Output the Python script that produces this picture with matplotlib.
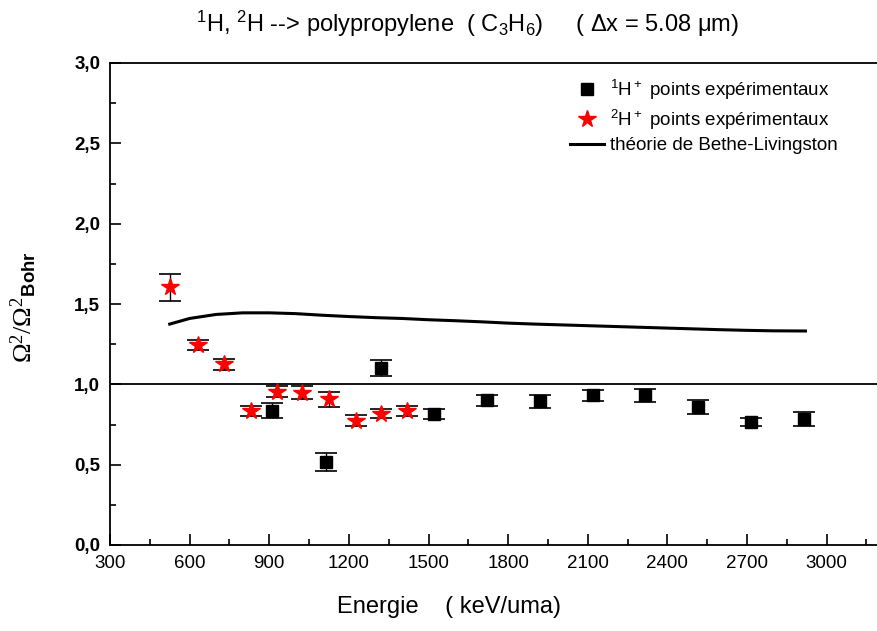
import matplotlib
matplotlib.use("Agg")
import matplotlib.pyplot as plt
from matplotlib.lines import Line2D
from matplotlib.ticker import MultipleLocator, FuncFormatter

plt.rcParams['font.family'] = ['Liberation Sans', 'DejaVu Sans']
plt.rcParams['mathtext.fontset'] = 'custom'
plt.rcParams['mathtext.rm'] = 'Liberation Sans'
plt.rcParams['mathtext.it'] = 'Liberation Sans:italic'
plt.rcParams['mathtext.bf'] = 'Liberation Sans:bold'

# 1H+ experimental points
h1_energy = [910, 1115, 1320, 1520, 1720, 1920, 2120, 2315, 2515, 2715, 2915]
h1_ratio = [0.836, 0.514, 1.101, 0.817, 0.900, 0.894, 0.931, 0.931, 0.859, 0.765, 0.784]
h1_err = [0.045, 0.056, 0.050, 0.032, 0.034, 0.040, 0.032, 0.038, 0.043, 0.027, 0.045]

# 2H+ experimental points
h2_energy = [525, 630, 730, 830, 930, 1025, 1125, 1225, 1320, 1420]
h2_ratio = [1.604, 1.245, 1.124, 0.834, 0.954, 0.948, 0.906, 0.774, 0.817, 0.836]
h2_err = [0.085, 0.033, 0.035, 0.032, 0.035, 0.040, 0.045, 0.034, 0.028, 0.030]

# Bethe-Livingston theory
th_energy = [525, 600, 700, 800, 900, 1000, 1100, 1200, 1300, 1400, 1500, 1600,
             1700, 1800, 1900, 2000, 2100, 2200, 2300, 2400, 2500, 2600, 2700,
             2800, 2920]
th_ratio = [1.375, 1.410, 1.435, 1.445, 1.445, 1.440, 1.430, 1.422, 1.415, 1.410,
            1.402, 1.396, 1.389, 1.381, 1.375, 1.370, 1.365, 1.360, 1.355, 1.350,
            1.345, 1.340, 1.336, 1.333, 1.332]

lbl_h1 = r'$^1$H$^+$ points expérimentaux'
lbl_h2 = r'$^2$H$^+$ points expérimentaux'
lbl_th = 'théorie de Bethe-Livingston'

fig = plt.figure(figsize=(8.78, 6.31), dpi=100)
ax = fig.add_axes([110 / 878, 1 - 545 / 631, 1 - 110 / 878 + 0.002, (545 - 63) / 631])

ax.axhline(1.0, color='black', lw=1.3, zorder=1)

ax.plot(th_energy, th_ratio, color='black', lw=2.2, zorder=2)

ax.errorbar(h1_energy, h1_ratio, yerr=h1_err, fmt='s', color='black',
            ms=8, capsize=8, elinewidth=1.0, capthick=1.2, zorder=3)
ax.errorbar(h2_energy, h2_ratio, yerr=h2_err, fmt='*', color='red',
            ecolor='black', ms=13, capsize=8, elinewidth=1.0, capthick=1.2,
            zorder=4)

ax.set_xlim(300, 3200)
ax.set_ylim(0, 3.0)
ax.xaxis.set_major_locator(MultipleLocator(300))
ax.xaxis.set_minor_locator(MultipleLocator(150))
ax.yaxis.set_major_locator(MultipleLocator(0.5))
ax.yaxis.set_minor_locator(MultipleLocator(0.25))
ax.yaxis.set_major_formatter(FuncFormatter(lambda v, p: f"{v:.1f}".replace('.', ',')))
ax.xaxis.set_major_formatter(FuncFormatter(lambda v, p: f"{int(v)}"))

ax.tick_params(which='both', direction='in', top=False, right=False, width=1.2)
ax.tick_params(which='major', length=8)
ax.tick_params(which='minor', length=4.5)
ax.tick_params(axis='x', labelsize=13.5, pad=7)
ax.tick_params(axis='y', labelsize=13.5, pad=7)
for t in ax.get_yticklabels():
    t.set_fontweight('bold')

ax.spines['right'].set_visible(False)
for s in ('left', 'bottom', 'top'):
    ax.spines[s].set_linewidth(1.3)

fig.text(467 / 878, 1 - 24 / 631,
         r'$^1$H, $^2$H --> polypropylene  ( C$_3$H$_6$)     ( Δx = 5.08 μm)',
         ha='center', va='center', fontsize=17)
fig.text(449 / 878, 1 - 607 / 631, 'Energie    ( keV/uma)',
         ha='center', va='center', fontsize=17)
fig.text(24 / 878, 1 - 307 / 631,
         r'$\mathdefault{Ω^2/Ω^2}_{\mathbf{Bohr}}$',
         ha='center', va='center', rotation=90, fontsize=19,
         family='Liberation Serif')

handles = [
    Line2D([], [], ls='none', marker='s', ms=8, color='black'),
    Line2D([], [], ls='none', marker='*', ms=13, color='red'),
    Line2D([], [], color='black', lw=2.2),
]
ax.legend(handles, [lbl_h1, lbl_h2, lbl_th],
          loc='upper left', bbox_to_anchor=(566 / 878, 1 - 74 / 631),
          bbox_transform=fig.transFigure, frameon=False, fontsize=13.5,
          handlelength=1.8, handletextpad=0.35, labelspacing=0.3,
          borderpad=0.2, borderaxespad=0.0)

fig.savefig('out.png', dpi=100)
